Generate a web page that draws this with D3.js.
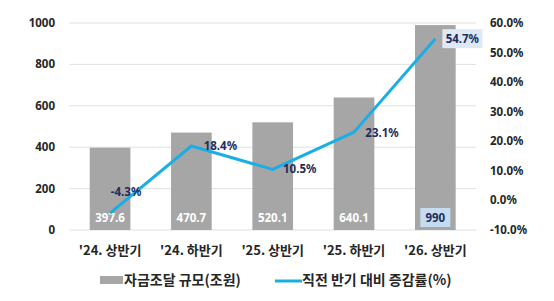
<!DOCTYPE html>
<html>
  <head>
    <meta charset="utf-8">
    <style>
      html, body {
        padding: 0;
        margin: 0;
        overflow: hidden;
        background: #ffffff;
      }
      .tick-label {
        font-family: "Noto Sans", sans-serif;
        font-weight: 700;
        font-size: 11.5px;
        fill: #262626;
      }
      .cat-label {
        font-family: "Noto Sans CJK KR", sans-serif;
        font-weight: 700;
        font-size: 13px;
        fill: #262626;
      }
      .legend-label {
        font-family: "Noto Sans CJK KR", sans-serif;
        font-weight: 700;
        font-size: 14px;
        fill: #262626;
      }
      .bar-label {
        font-family: "Noto Sans", sans-serif;
        font-weight: 700;
        font-size: 11.5px;
        fill: #ffffff;
      }
      .pct-label {
        font-family: "Noto Sans", sans-serif;
        font-weight: 700;
        font-size: 11.5px;
        fill: #1f2d5c;
      }
    </style>
  </head>
  <body>
    <div id="chart"></div>
    <script src="https://cdnjs.cloudflare.com/ajax/libs/d3/7.8.5/d3.min.js"></script>
    <script>
      // data
      let categories = ["'24. 상반기", "'24. 하반기", "'25. 상반기", "'25. 하반기", "'26. 상반기"]
      let funding = [397.6, 470.7, 520.1, 640.1, 990]
      let growth = [-4.3, 18.4, 10.5, 23.1, 54.7]
      let leftTicks = [0, 200, 400, 600, 800, 1000]
      let rightTicks = [-10, 0, 10, 20, 30, 40, 50, 60]
      let legendNames = ['자금조달 규모(조원)', '직전 반기 대비 증감률(%)']

      let width = 554
      let height = 301
      let margin = { top: 23, left: 69.4, right: 78, bottom: 71 }

      let gray = '#a6a6a6'
      let blue = '#1aaee6'
      let navy = '#1f2d5c'

      let svg = d3.select('#chart')
        .append('svg')
        .attr('width', width)
        .attr('height', height)

      let x = d3.scaleBand()
        .domain(categories)
        .range([margin.left, width - margin.right])
        .paddingInner(0.5)
        .paddingOuter(0.25)

      let y = d3.scaleLinear()
        .domain([0, 1000])
        .range([height - margin.bottom, margin.top])

      let y2 = d3.scaleLinear()
        .domain([-10, 60])
        .range([height - margin.bottom, margin.top])

      // gridlines
      svg.append('g')
        .selectAll('line')
        .data(leftTicks)
        .enter().append('line')
        .attr('x1', margin.left)
        .attr('x2', width - margin.right)
        .attr('y1', d => y(d))
        .attr('y2', d => y(d))
        .attr('stroke', '#e0e0e0')
        .attr('stroke-width', 1)

      // left axis labels
      svg.append('g')
        .selectAll('text')
        .data(leftTicks)
        .enter().append('text')
        .attr('class', 'tick-label')
        .attr('x', 55)
        .attr('y', d => y(d))
        .attr('dy', '0.35em')
        .attr('text-anchor', 'end')
        .text(d => d)

      // right axis labels
      svg.append('g')
        .selectAll('text')
        .data(rightTicks)
        .enter().append('text')
        .attr('class', 'tick-label')
        .attr('x', 490)
        .attr('y', d => y2(d))
        .attr('dy', '0.35em')
        .text(d => d.toFixed(1) + '%')

      // bars
      svg.append('g')
        .selectAll('rect')
        .data(funding)
        .enter().append('rect')
        .attr('x', (d, i) => x(categories[i]))
        .attr('y', d => y(d))
        .attr('width', x.bandwidth())
        .attr('height', d => y(0) - y(d))
        .attr('fill', gray)

      // category labels
      svg.append('g')
        .selectAll('text')
        .data(categories)
        .enter().append('text')
        .attr('class', 'cat-label')
        .attr('x', d => x(d) + x.bandwidth() / 2)
        .attr('y', 250)
        .attr('dy', '0.35em')
        .attr('text-anchor', 'middle')
        .text(d => d)

      // bar value labels (last one sits in a light box)
      let last = funding.length - 1
      let cx = i => x(categories[i]) + x.bandwidth() / 2
      svg.append('rect')
        .attr('x', cx(last) - 15)
        .attr('y', 208)
        .attr('width', 30)
        .attr('height', 19)
        .attr('fill', '#c5dcf0')

      svg.append('g')
        .selectAll('text')
        .data(funding)
        .enter().append('text')
        .attr('class', 'bar-label')
        .attr('x', (d, i) => cx(i))
        .attr('y', 218)
        .attr('dy', '0.35em')
        .attr('text-anchor', 'middle')
        .style('fill', (d, i) => i === last ? navy : '#ffffff')
        .text(d => d)

      // growth line
      let line = d3.line()
        .x((d, i) => cx(i))
        .y(d => y2(d))

      svg.append('path')
        .datum(growth)
        .attr('d', line)
        .attr('fill', 'none')
        .attr('stroke', blue)
        .attr('stroke-width', 3)
        .attr('stroke-linejoin', 'round')

      // growth labels
      let labelShift = [[16, -21], [29, 0], [27, 0], [28, 1], [27, 0]]
      svg.append('rect')
        .attr('x', cx(last) + 7)
        .attr('y', y2(growth[last]) - 9.5)
        .attr('width', 40)
        .attr('height', 19)
        .attr('fill', '#dde9f6')

      svg.append('g')
        .selectAll('text')
        .data(growth)
        .enter().append('text')
        .attr('class', 'pct-label')
        .attr('x', (d, i) => cx(i) + labelShift[i][0])
        .attr('y', (d, i) => y2(d) + labelShift[i][1])
        .attr('dy', '0.35em')
        .attr('text-anchor', 'middle')
        .text(d => d.toFixed(1) + '%')

      // legend
      let legend = svg.append('g')
      legend.append('rect')
        .attr('x', 100)
        .attr('y', 276)
        .attr('width', 23)
        .attr('height', 8)
        .attr('fill', gray)
      legend.append('text')
        .attr('class', 'legend-label')
        .attr('x', 124)
        .attr('y', 280)
        .attr('dy', '0.35em')
        .text(legendNames[0])
      legend.append('line')
        .attr('x1', 275)
        .attr('x2', 302)
        .attr('y1', 281)
        .attr('y2', 281)
        .attr('stroke', blue)
        .attr('stroke-width', 3)
      legend.append('text')
        .attr('class', 'legend-label')
        .attr('x', 302)
        .attr('y', 280)
        .attr('dy', '0.35em')
        .text(legendNames[1])
    </script>
  </body>
</html>
